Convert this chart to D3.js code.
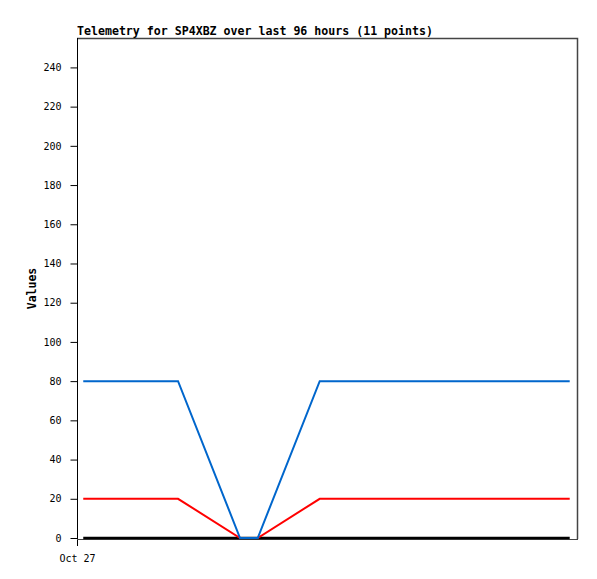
<!DOCTYPE html>
<html>
<head>
<meta charset="utf-8">
<script src="https://cdn.jsdelivr.net/npm/d3@7"></script>
<style>
  body { margin: 0; background: #fff; }
  text { font-family: "DejaVu Sans Mono", "Liberation Mono", monospace; }
</style>
</head>
<body>
<div id="chart"></div>
<script>
// hours since start of window (96 h)
const hours = [1.2, 10, 19.4, 31.3, 34.7, 46.6, 58, 70, 82, 90, 94.6];
const blueValues = [80, 80, 80, 0, 0, 80, 80, 80, 80, 80, 80];
const redValues = [20, 20, 20, 0, 0, 20, 20, 20, 20, 20, 20];
const blackValues = [0, 0, 0, 0, 0, 0, 0, 0, 0, 0, 0];
const yTicks = [0, 20, 40, 60, 80, 100, 120, 140, 160, 180, 200, 220, 240];
const xTicks = [{ h: 0, label: "Oct 27" }];

const WIDTH = 597, HEIGHT = 579;
const MARGIN = { TOP: 38, RIGHT: 20, BOTTOM: 40, LEFT: 77 };

const svg = d3.select("#chart").append("svg")
  .attr("width", WIDTH)
  .attr("height", HEIGHT);

const x = d3.scaleLinear().domain([0, 96]).range([MARGIN.LEFT, WIDTH - MARGIN.RIGHT]);
const y = d3.scaleLinear().domain([0, 255]).range([HEIGHT - MARGIN.BOTTOM - 1, MARGIN.TOP]);

// frame (top and right)
svg.append("path")
  .attr("d", `M${MARGIN.LEFT},${MARGIN.TOP + 0.5}H${WIDTH - MARGIN.RIGHT + 0.5}V${HEIGHT - MARGIN.BOTTOM}`)
  .attr("fill", "none")
  .attr("stroke", "#444")
  .attr("stroke-width", 1.5);

// y axis
const yAxis = d3.axisLeft(y).tickValues(yTicks).tickSize(7).tickPadding(9);
svg.append("g")
  .attr("transform", `translate(${MARGIN.LEFT + 0.5},0)`)
  .call(yAxis)
  .call(g => g.select(".domain").attr("d", `M0,${MARGIN.TOP}V${HEIGHT - MARGIN.BOTTOM + 7}`))
  .call(g => g.selectAll("text").attr("font-size", 10).attr("font-family", "DejaVu Sans Mono"));

// x axis
const xAxis = d3.axisBottom(x).tickValues(xTicks.map(d => d.h))
  .tickFormat((d, i) => xTicks[i].label).tickSize(0).tickPadding(16);
svg.append("g")
  .attr("transform", `translate(0,${HEIGHT - MARGIN.BOTTOM})`)
  .call(xAxis)
  .call(g => g.select(".domain").remove())
  .call(g => g.selectAll("text").attr("font-size", 10).attr("font-family", "DejaVu Sans Mono"));

// bottom frame line
svg.append("line")
  .attr("x1", MARGIN.LEFT).attr("x2", WIDTH - MARGIN.RIGHT + 1)
  .attr("y1", HEIGHT - MARGIN.BOTTOM + 0.5).attr("y2", HEIGHT - MARGIN.BOTTOM + 0.5)
  .attr("stroke", "#444");

const line = d3.line().x(d => x(d.h)).y(d => y(d.v));
const series = [
  { values: blackValues, color: "#000000", width: 2.5 },
  { values: redValues, color: "#ff0000", width: 2 },
  { values: blueValues, color: "#0066cc", width: 2 }
];
series.forEach(s => {
  const data = hours.map((h, i) => ({ h, v: s.values[i] }));
  svg.append("path")
    .datum(data)
    .attr("fill", "none")
    .attr("stroke", s.color)
    .attr("stroke-width", s.width)
    .attr("d", line);
});

// title
svg.append("text")
  .attr("x", MARGIN.LEFT)
  .attr("y", 35)
  .attr("font-size", 11.6)
  .attr("font-weight", "bold")
  .text("Telemetry for SP4XBZ over last 96 hours (11 points)");

// y label
svg.append("text")
  .attr("transform", `translate(36, ${(MARGIN.TOP + HEIGHT - MARGIN.BOTTOM) / 2}) rotate(-90)`)
  .attr("text-anchor", "middle")
  .attr("font-size", 11.5)
  .attr("font-weight", "bold")
  .text("Values");
</script>
</body>
</html>
